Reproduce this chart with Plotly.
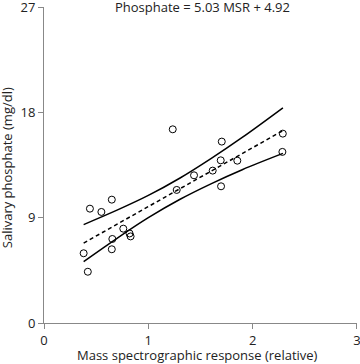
import plotly.graph_objects as go

msr = [0.38, 0.42, 0.44, 0.55, 0.65, 0.655, 0.65, 0.76, 0.82, 0.83,
       1.234, 1.272, 1.438, 1.617, 1.694, 1.697, 1.704, 1.853, 2.285, 2.289]
phosphate = [5.96, 4.38, 9.77, 9.49, 10.54, 7.18, 6.3, 8.06, 7.65, 7.4,
             16.55, 11.37, 12.62, 13.02, 13.9, 11.68, 15.5, 13.87, 14.62, 16.18]

# Regression line endpoints and confidence band
fit_x = [0.38, 2.29]
fit_y = [6.83, 16.44]
band_x = [0.38, 0.7, 1.0, 1.3, 1.6, 1.9, 2.29]
band_upper = [8.41, 9.64, 10.90, 12.37, 14.05, 15.86, 18.39]
band_lower = [5.25, 7.24, 9.00, 10.55, 11.89, 13.10, 14.49]

x_ticks = [0, 1, 2, 3]
y_ticks = [0, 9, 18, 27]

FONT = "Open Sans"
TXT = "#222"

fig = go.Figure()
fig.add_trace(go.Scatter(x=band_x, y=band_upper, mode="lines", line=dict(color="black", width=1.5, shape="spline")))
fig.add_trace(go.Scatter(x=band_x, y=band_lower, mode="lines", line=dict(color="black", width=1.5, shape="spline")))
fig.add_trace(go.Scatter(x=fit_x, y=fit_y, mode="lines", line=dict(color="black", width=1.5, dash="4px,3px")))
fig.add_trace(go.Scatter(x=msr, y=phosphate, mode="markers",
                         marker=dict(symbol="circle-open", size=7, color="black", line=dict(width=1))))

fig.update_layout(
    width=360, height=364,
    margin=dict(l=44, r=3, t=7, b=41),
    paper_bgcolor="white", plot_bgcolor="white",
    showlegend=False,
    font=dict(family=FONT, size=12, color=TXT),
    annotations=[
        dict(text="Phosphate = 5.03 MSR + 4.92", x=0.505, xref="paper", xanchor="center",
             y=1, yref="paper", yanchor="middle", showarrow=False,
             font=dict(family=FONT, size=13, color=TXT)),
        dict(text="Mass spectrographic response (relative)", x=0.49, xref="paper", xanchor="center",
             y=-0.068, yref="paper", yanchor="top", showarrow=False,
             font=dict(family=FONT, size=13, color=TXT)),
        dict(text="Salivary phosphate (mg/dl)", x=-0.118, xref="paper", xanchor="center",
             y=0.49, yref="paper", yanchor="middle", textangle=-90, showarrow=False,
             font=dict(family=FONT, size=13, color=TXT)),
    ],
)
fig.update_xaxes(range=[0, 3.0001], tickvals=x_ticks, showgrid=False, zeroline=False, automargin=False,
                 showline=True, linecolor="#888", linewidth=1, ticklabeloverflow="allow",
                 ticks="outside", ticklen=5, tickcolor="#888",
                 tickfont=dict(size=13, family=FONT, color=TXT))
fig.update_yaxes(range=[0, 27.001], tickvals=y_ticks, showgrid=False, zeroline=False, automargin=False,
                 showline=True, linecolor="#888", linewidth=1, ticklabeloverflow="allow",
                 ticks="outside", ticklen=5, tickcolor="#888",
                 tickfont=dict(size=13, family=FONT, color=TXT))

fig.write_html("out.html", config={"displayModeBar": False},
               post_script="document.body.style.margin='0';document.body.style.overflow='hidden';")
